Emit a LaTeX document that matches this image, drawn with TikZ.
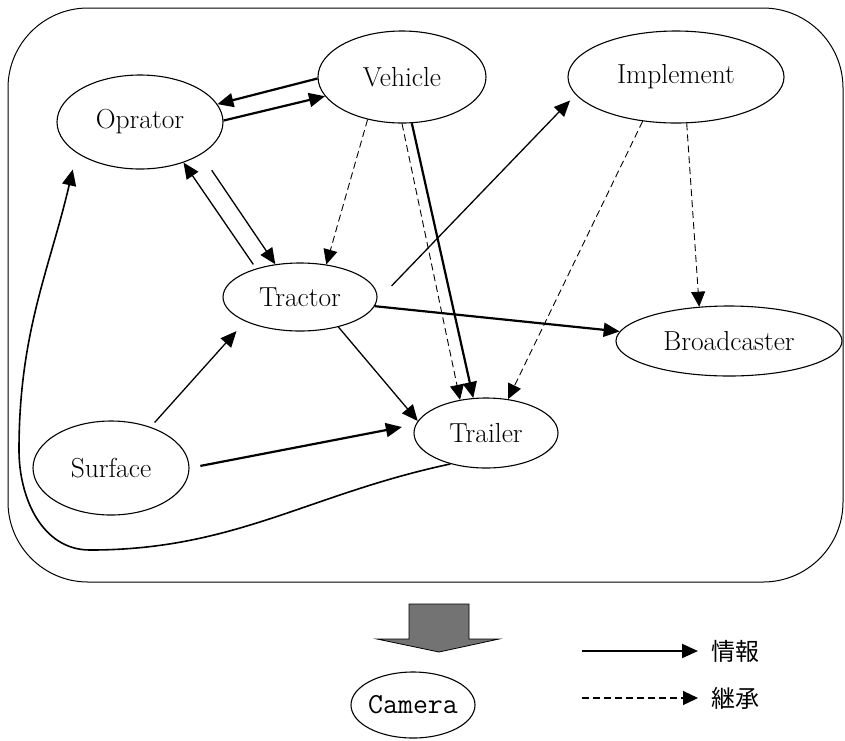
\documentclass[tikz,border=0pt]{standalone}
\usepackage{fontspec}
\newfontfamily\jpfont{Noto Sans CJK JP}
\usetikzlibrary{arrows.meta,shapes.geometric}

\begin{document}
\begin{tikzpicture}[x=1pt, y=1pt,
  obj/.style={draw, ellipse, line width=1.1pt, inner sep=0pt, font=\fontsize{27.5}{32}\selectfont},
  info/.style={-{Triangle[length=16pt,width=14pt]}, line width=1.3pt},
  infothick/.style={info, line width=2.2pt},
  inherit/.style={-{Triangle[length=15pt,width=14pt]}, line width=0.9pt, dash pattern=on 7pt off 4pt}]

  % Page size and outer frame
  \useasboundingbox (0,0) rectangle (845,-740);
  \draw[line width=1pt, rounded corners=80pt] (8,-8) rectangle (843,-582);

  % Classes
  \node[obj, minimum width=168pt, minimum height=92pt] (vehicle) at (402,-77) {Vehicle};
  \node[obj, minimum width=216pt, minimum height=92pt] (implement) at (676,-77) {Implement};
  \node[obj, minimum width=166pt, minimum height=94pt] (oprator) at (140,-122) {Oprator};
  \node[obj, minimum width=154pt, minimum height=68pt] (tractor) at (300,-297) {Tractor};
  \node[obj, minimum width=226pt, minimum height=70pt] (broadcaster) at (729,-341) {Broadcaster};
  \node[obj, minimum width=144pt, minimum height=70pt] (trailer) at (486,-433) {Trailer};
  \node[obj, minimum width=156pt, minimum height=94pt] (surface) at (111,-468) {Surface};

  % Information flow
  \draw[infothick] (vehicle.181) -- (oprator.13);
  \draw[infothick] (oprator.1) -- (vehicle.194);
  \draw[info, shorten <=5pt] (tractor.147) -- (oprator.-43);
  \draw[info, shorten <=19pt] (oprator.-28) -- (tractor.127);
  \draw[infothick] (vehicle.282) -- (trailer.110);
  \draw[info, shorten <=21pt, shorten >=8pt] (tractor.-3) -- (implement.190);
  \draw[infothick] (tractor.-7) -- (broadcaster.175);
  \draw[info] (tractor.-38) -- (trailer.170);
  \draw[info, shorten <=6pt, shorten >=13pt] (surface.46) -- (tractor.204);
  \draw[infothick, shorten <=11pt, shorten >=14pt] (surface.0) -- (trailer.173);
  \draw[info, line width=1.6pt, shorten >=17pt] (trailer.221) to[out=192, in=0] (90,-550)
    to[out=180, in=-90] (19,-450) to[out=90, in=-103] (oprator.206);

  % Inheritance
  \draw[inherit] (vehicle.231) -- (tractor.51);
  \draw[inherit] (vehicle.270) -- (trailer.128);
  \draw[inherit] (implement.233) -- (trailer.57);
  \draw[inherit] (implement.283) -- (broadcaster.131);

  % Block arrow down to the camera
  \draw[fill=black!55, line width=0.8pt] (409,-604) -- (469,-604) -- (469,-639) -- (499,-639)
    -- (439,-652) -- (377,-639) -- (409,-639) -- cycle;
  \node[obj, minimum width=124pt, minimum height=66pt, font=\ttfamily\fontsize{29}{32}\selectfont] (camera) at (413,-705) {\makebox[0pt]{Camera}};

  % Legend
  \coordinate (lgia) at (582,-651);
  \coordinate (lgib) at (698,-651);
  \coordinate (lgha) at (582,-698);
  \coordinate (lghb) at (698,-698);
  \draw[info, line width=2pt] (lgia) -- (lgib);
  \draw[inherit, line width=1.2pt] (lgha) -- (lghb);
  \node[right, font=\jpfont\fontsize{24}{28}\selectfont] (lginfo) at (708,-651) {情報};
  \node[right, font=\jpfont\fontsize{24}{28}\selectfont] (lginh) at (708,-698) {継承};

\end{tikzpicture}
\end{document}
